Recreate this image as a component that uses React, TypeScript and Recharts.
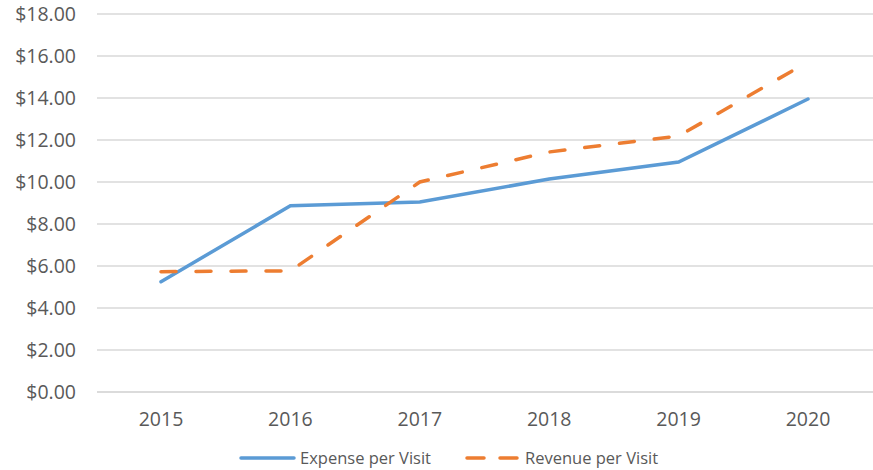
import React from "react";
import { LineChart, Line, XAxis, YAxis, CartesianGrid, Legend } from "recharts";

const years = ["2015", "2016", "2017", "2018", "2019", "2020"];
const expensePerVisit = [5.25, 8.87, 9.05, 10.14, 10.95, 13.95];
const revenuePerVisit = [5.73, 5.77, 10.0, 11.43, 12.19, 15.72];
const yTicks = [0, 2, 4, 6, 8, 10, 12, 14, 16, 18];

const data = years.map((y, i) => ({
  year: y,
  expense: expensePerVisit[i],
  revenue: revenuePerVisit[i],
}));

const BLUE = "#5B9BD5";
const ORANGE = "#ED7D31";
const TEXT = "#595959";
const FONT = "'Open Sans', sans-serif";

const fmt = (v: number) => "$" + v.toFixed(2);

const LegendContent = () => (
  <div
    style={{
      position: "relative",
      width: 873,
      height: 30,
      fontFamily: FONT,
      fontSize: 16,
      color: TEXT,
    }}
  >
    <svg width={873} height={30} style={{ position: "absolute", left: 0, top: 0 }}>
      <line x1={241} y1={18} x2={294} y2={18} stroke={BLUE} strokeWidth={3.5} strokeLinecap="round" />
      <line x1={467} y1={18} x2={518} y2={18} stroke={ORANGE} strokeWidth={3.5} strokeLinecap="round" strokeDasharray="17 16" />
      <text x={300} y={23.5} fill={TEXT} fontFamily={FONT} fontSize={16.5}>Expense per Visit</text>
      <text x={525} y={23.5} fill={TEXT} fontFamily={FONT} fontSize={16.5}>Revenue per Visit</text>
    </svg>
  </div>
);

export default function App() {
  return (
    <div style={{ position: "absolute", left: 0, top: 0, background: "#fff" }}>
      <LineChart
        width={873}
        height={470}
        data={data}
        margin={{ top: 14, right: 0, left: 0, bottom: 0 }}
      >
        <CartesianGrid vertical={false} stroke="#D9D9D9" strokeWidth={1.5} />
        <XAxis
          dataKey="year"
          axisLine={{ stroke: "#D9D9D9", strokeWidth: 1.5 }}
          tickLine={false}
          height={48}
          tickMargin={14}
          tick={{ fill: TEXT, fontSize: 19.5, fontFamily: FONT }}
          padding={{ left: 64, right: 65 }}
        />
        <YAxis
          domain={[0, 18]}
          ticks={yTicks}
          width={97}
          axisLine={false}
          tickLine={false}
          tickMargin={15}
          tickFormatter={fmt}
          tick={{ fill: TEXT, fontSize: 19.5, fontFamily: FONT }}
        />
        <Legend verticalAlign="bottom" height={30} content={() => <LegendContent />} />
        <Line
          type="linear"
          dataKey="expense"
          name="Expense per Visit"
          stroke={BLUE}
          strokeWidth={3.5}
          strokeLinecap="round"
          dot={false}
          activeDot={false}
          isAnimationActive={false}
        />
        <Line
          type="linear"
          dataKey="revenue"
          name="Revenue per Visit"
          stroke={ORANGE}
          strokeWidth={3.5}
          strokeLinecap="round"
          strokeDasharray="15 20"
          dot={false}
          activeDot={false}
          isAnimationActive={false}
        />
      </LineChart>
    </div>
  );
}
